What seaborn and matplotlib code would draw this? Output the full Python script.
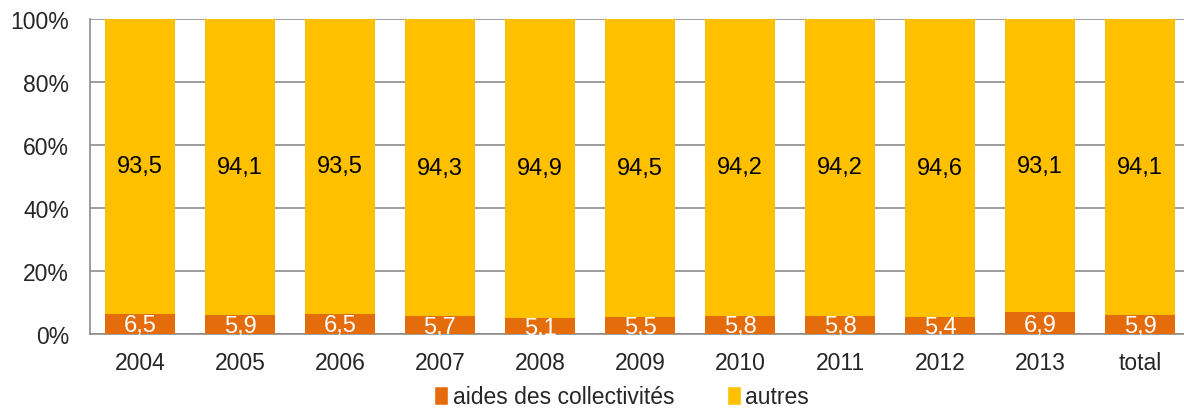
import matplotlib
matplotlib.use("Agg")
import matplotlib.pyplot as plt
import seaborn as sns
import pandas as pd
from matplotlib.patches import Patch
from matplotlib.ticker import PercentFormatter, FixedLocator

categories = ["2004", "2005", "2006", "2007", "2008", "2009", "2010", "2011", "2012", "2013", "total"]
aides = [6.5, 5.9, 6.5, 5.7, 5.1, 5.5, 5.8, 5.8, 5.4, 6.9, 5.9]
autres = [93.5, 94.1, 93.5, 94.3, 94.9, 94.5, 94.2, 94.2, 94.6, 93.1, 94.1]

ORANGE = "#E46C0A"
YELLOW = "#FFC000"
GRID = "#8C8C8C"

sns.set_style("white")
plt.rcParams["font.family"] = ["Liberation Sans", "DejaVu Sans"]

df = pd.DataFrame({"cat": categories, "aides": aides, "autres": autres})
df["cumul"] = df["aides"] + df["autres"]

fig = plt.figure(figsize=(11.84, 4.10), dpi=100)
ax = fig.add_axes([90 / 1184, 75 / 410, 1100 / 1184, 315 / 410])

# stacked: full bar in yellow, then the orange part drawn on top
sns.barplot(data=df, x="cat", y="cumul", color=YELLOW, width=0.7, saturation=1,
            linewidth=0, ax=ax, zorder=2)
sns.barplot(data=df, x="cat", y="aides", color=ORANGE, width=0.7, saturation=1,
            linewidth=0, ax=ax, zorder=3)

for i, (a, b) in enumerate(zip(aides, autres)):
    ax.text(i, a / 2 - 0.5, f"{a:.1f}".replace(".", ","), ha="center", va="center",
            color="white", fontsize=17, zorder=4)
    ax.text(i, a + b / 2, f"{b:.1f}".replace(".", ","), ha="center", va="center",
            color="black", fontsize=17, zorder=4)

ax.set_xlim(-0.5, 10.5)
ax.set_ylim(0, 100)
ax.set_yticks([0, 20, 40, 60, 80, 100])
ax.yaxis.set_major_formatter(PercentFormatter(decimals=0))
ax.grid(axis="y", color=GRID, linewidth=1.2, zorder=0)
ax.set_axisbelow(True)
ax.set_xlabel("")
ax.set_ylabel("")

for s in ["top", "right"]:
    ax.spines[s].set_visible(False)
for s in ["left", "bottom"]:
    ax.spines[s].set_color(GRID)
    ax.spines[s].set_linewidth(1.2)

ax.tick_params(axis="x", length=0, labelsize=16.5, pad=12)
ax.tick_params(axis="y", length=0, labelsize=16.5, pad=15)
ax.xaxis.set_minor_locator(FixedLocator([i + 0.5 for i in range(len(categories))]))
ax.tick_params(axis="x", which="minor", direction="in", length=6, color=GRID, width=1.2)

handles = [Patch(facecolor=ORANGE, label="aides des collectivités"),
           Patch(facecolor=YELLOW, label="autres")]
fig.legend(handles=handles, loc="center", bbox_to_anchor=(0.525, 0.03), ncol=2,
           frameon=False, fontsize=16.5, handlelength=0.6, handleheight=0.9,
           handletextpad=0.2, columnspacing=2.3)

fig.savefig("out.png", dpi=100)
